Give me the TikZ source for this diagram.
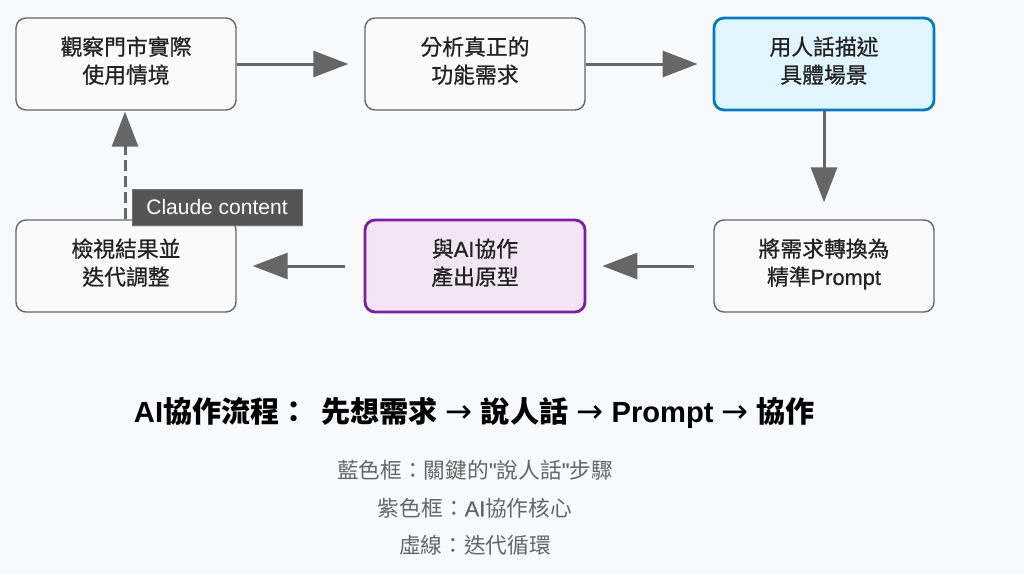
\documentclass[tikz,border=0pt]{standalone}
\usepackage{fontspec}
\usepackage{graphicx}
\setmainfont{Noto Sans CJK TC}
\newfontfamily\med[RawFeature={embolden=0.8}]{Noto Sans CJK TC}
\newfontfamily\lat{Liberation Sans}
\newfontfamily\latm[RawFeature={embolden=0.5}]{Liberation Sans}
\newfontfamily\arr{DejaVu Sans}
\newcommand{\dnstrut}{\rule[-8.5pt]{0pt}{0pt}}
\newcommand{\tarr}{{\lat\ }{\mdseries\arr\fontsize{31}{32}\selectfont →}{\lat\ }}
\usetikzlibrary{arrows.meta,shadows}
\definecolor{bg}{HTML}{F8F9FA}
\definecolor{boxfill}{HTML}{FAFAFA}
\definecolor{boxline}{HTML}{666666}
\definecolor{arrowc}{HTML}{666666}
\definecolor{blueline}{HTML}{0A77C2}
\definecolor{bluefill}{HTML}{E1F5FE}
\definecolor{purpline}{HTML}{7B1FA2}
\definecolor{purpfill}{HTML}{F3E5F5}
\definecolor{tipfill}{HTML}{555555}
\definecolor{subc}{HTML}{666666}
\definecolor{txt}{HTML}{222222}
\tikzset{
  stepbox/.style={draw=boxline, line width=1.4pt, fill=boxfill, rounded corners=10pt,
    minimum width=220pt, minimum height=92pt, align=center, inner sep=0pt, text=txt,
    font=\med\fontsize{21.8}{28}\selectfont},
  bluebox/.style={stepbox, draw=blueline, fill=bluefill, line width=2.8pt},
  purpbox/.style={stepbox, draw=purpline, fill=purpfill, line width=2.8pt},
  flow/.style={draw=arrowc, line width=3pt, -{Triangle[length=35pt,width=26pt]}},
  dflow/.style={flow, dash pattern=on 11pt off 5pt},
  subline/.style={text=subc, font=\fontsize{21.7}{26}\selectfont},
}
\begin{document}
\begin{tikzpicture}[x=1pt,y=-1pt]
\fill[bg] (0,0) rectangle (1024,574);
\useasboundingbox (0,0) rectangle (1024,574);

\node[stepbox] (b1) at (126,64) {觀察門市實際\\使用情境\dnstrut};
\node[stepbox] (b2) at (475,64) {分析真正的\\功能需求\dnstrut};
\node[bluebox] (b3) at (824,64) {用人話描述\\具體場景\dnstrut};
\node[stepbox] (b4) at (824,266) {將需求轉換為\\精準{\latm Prompt}\dnstrut};
\node[purpbox] (b5) at (475,266) {與{\latm AI}協作\\產出原型\dnstrut};
\node[stepbox] (b6) at (126,266) {檢視結果並\\迭代調整\dnstrut};

\draw[flow, shorten >=16pt] (b1.east) -- (b2.west);
\draw[flow, shorten >=15pt] (b2.east) -- (b3.west);
\draw[flow, shorten >=17pt] (b3.south) -- (b4.north);
\draw[flow, shorten >=16pt, shorten <=19pt] (b4.west) -- (b5.east);
\draw[flow, shorten >=16pt, shorten <=19pt] (b5.west) -- (b6.east);
\draw[dflow, shorten >=1pt] ([xshift=-1pt]b6.north) -- ([xshift=-1pt]b1.south);

\node[fill=tipfill, draw=black!55, line width=0.6pt, drop shadow={opacity=0.25, shadow xshift=0pt, shadow yshift=-2pt},
  minimum width=170pt, minimum height=36pt, inner sep=0pt, text=white,
  font=\lat\fontsize{21}{24}\selectfont] (tip) at (217,207) {Claude content};

\node[inner sep=0pt, font=\bfseries\fontsize{28}{32}\selectfont] (title) at (474.5,413)
  {\resizebox{681pt}{!}{{\lat\bfseries AI}協作流程：\hspace{12pt}先想需求\tarr 說人話\tarr{\lat\bfseries Prompt}\tarr 協作}};
\node[subline] (s1) at (475,470) {藍色框：關鍵的{\latm "}說人話{\latm "}步驟};
\node[subline] (s2) at (475,508) {紫色框：{\latm AI}協作核心};
\node[subline] (s3) at (475,545) {虛線：迭代循環};
\end{tikzpicture}
\end{document}
